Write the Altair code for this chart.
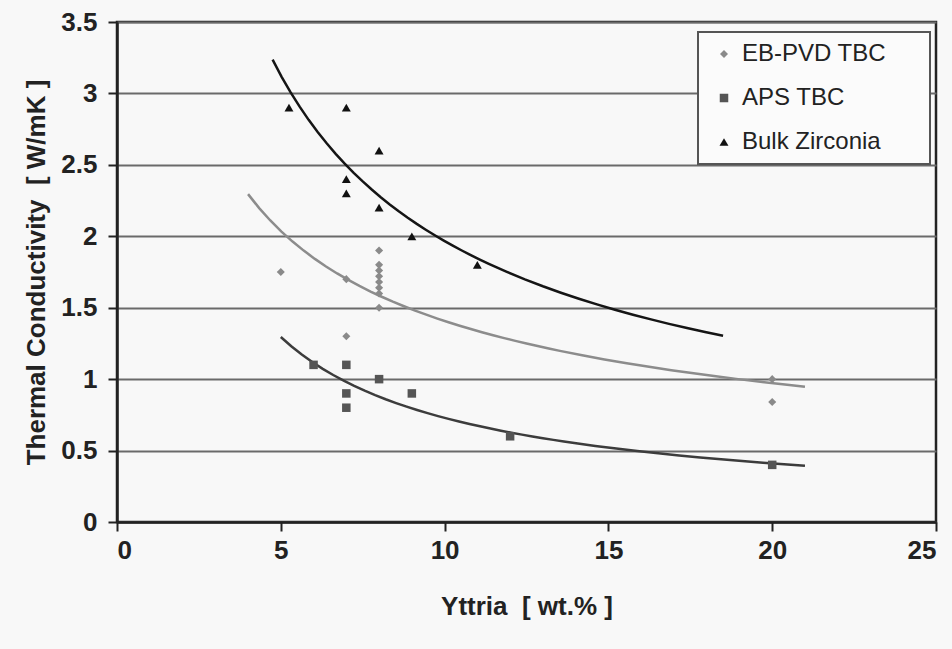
import altair as alt
import pandas as pd

series_names = ["EB-PVD TBC", "APS TBC", "Bulk Zirconia"]
series_colors = ["#8a8a8a", "#555555", "#111111"]
series_shapes = ["diamond", "square", "triangle-up"]
series_sizes = [65, 80, 80]

eb_x = [5, 7, 7, 8, 8, 8, 8, 8, 8, 8, 8, 20, 20]
eb_y = [1.75, 1.7, 1.3, 1.9, 1.8, 1.76, 1.72, 1.68, 1.64, 1.6, 1.5, 1.0, 0.84]
aps_x = [6, 7, 7, 7, 8, 9, 12, 20]
aps_y = [1.1, 1.1, 0.9, 0.8, 1.0, 0.9, 0.6, 0.4]
bz_x = [5.25, 7, 7, 7, 8, 8, 9, 11]
bz_y = [2.9, 2.9, 2.4, 2.3, 2.6, 2.2, 2.0, 1.8]

trend_extents = {"EB-PVD TBC": [4, 21], "APS TBC": [5, 21], "Bulk Zirconia": [4.75, 18.5]}
trend_colors = {"EB-PVD TBC": "#8c8c8c", "APS TBC": "#3c3c3c", "Bulk Zirconia": "#151515"}

x_ticks = [0, 5, 10, 15, 20, 25]
y_ticks = [0, 0.5, 1, 1.5, 2, 2.5, 3, 3.5]

NB = "\u00a0"
x_title = "Yttria" + NB + NB + "[" + NB + "wt.%" + NB + "]"
y_title = "Thermal" + NB + "Conductivity" + NB + NB + "[" + NB + "W/mK" + NB + "]"
legend_pad = NB * 5 + "\u200b"

rows = []
for name, xs, ys in [("EB-PVD TBC", eb_x, eb_y), ("APS TBC", aps_x, aps_y), ("Bulk Zirconia", bz_x, bz_y)]:
    for xv, yv in zip(xs, ys):
        rows.append({"series": name, "x": xv, "y": yv})
df = pd.DataFrame(rows)

FONT = "Liberation Sans"

x_enc = alt.X("x:Q", scale=alt.Scale(domain=[0, 25], nice=False, zero=False),
              axis=alt.Axis(values=x_ticks, title=x_title, grid=False, format="~g"))
y_enc = alt.Y("y:Q", scale=alt.Scale(domain=[0, 3.5], nice=False),
              axis=alt.Axis(values=y_ticks, title=y_title, grid=True, format="~g"))

points = alt.Chart(df).mark_point(filled=True, opacity=1).encode(
    x=x_enc,
    y=y_enc,
    color=alt.Color("series:N", scale=alt.Scale(domain=series_names, range=series_colors),
                    legend=alt.Legend(title=None, orient="none", legendX=581, legendY=10,
                                      labelLimit=300,
                                      labelExpr="datum.label + '" + legend_pad + "'")),
    shape=alt.Shape("series:N", scale=alt.Scale(domain=series_names, range=series_shapes)),
    size=alt.Size("series:N", scale=alt.Scale(domain=series_names, range=series_sizes), legend=None),
)

layers = []
for name in series_names:
    layers.append(
        alt.Chart(df).transform_filter(alt.datum.series == name)
        .transform_regression("x", "y", method="pow", extent=trend_extents[name])
        .mark_line(color=trend_colors[name], strokeWidth=2.5)
        .encode(x=x_enc, y=y_enc)
    )

chart = alt.layer(*layers, points).properties(
    width=819, height=500,
    autosize=alt.AutoSizeParams(type="none"),
    padding={"left": 117, "top": 22, "right": 16, "bottom": 127},
    background="#f8f8f8",
).configure_view(
    stroke="#222222", strokeWidth=2.5
).configure_axis(
    labelFont=FONT, titleFont=FONT, labelFontWeight="bold", titleFontWeight="bold",
    labelFontSize=26, titleFontSize=26, labelColor="#222222", titleColor="#222222",
    domainColor="#222222", domainWidth=2.5, tickColor="#222222", tickWidth=2, tickSize=9,
    gridColor="#6a6a6a", gridWidth=1.8,
).configure_axisX(
    labelPadding=6, titlePadding=30,
).configure_axisY(
    labelPadding=11, titlePadding=11,
).configure_legend(
    labelFont=FONT, labelFontSize=24, labelColor="#222222",
    fillColor="#fbfbfb", strokeColor="#555555", strokeWidth=2,
    padding=10, rowPadding=20, symbolSize=50, symbolOffset=4, labelOffset=6,
    symbolStrokeWidth=0,
)

chart.save("out.html", embed_options={"renderer": "svg", "actions": False})
